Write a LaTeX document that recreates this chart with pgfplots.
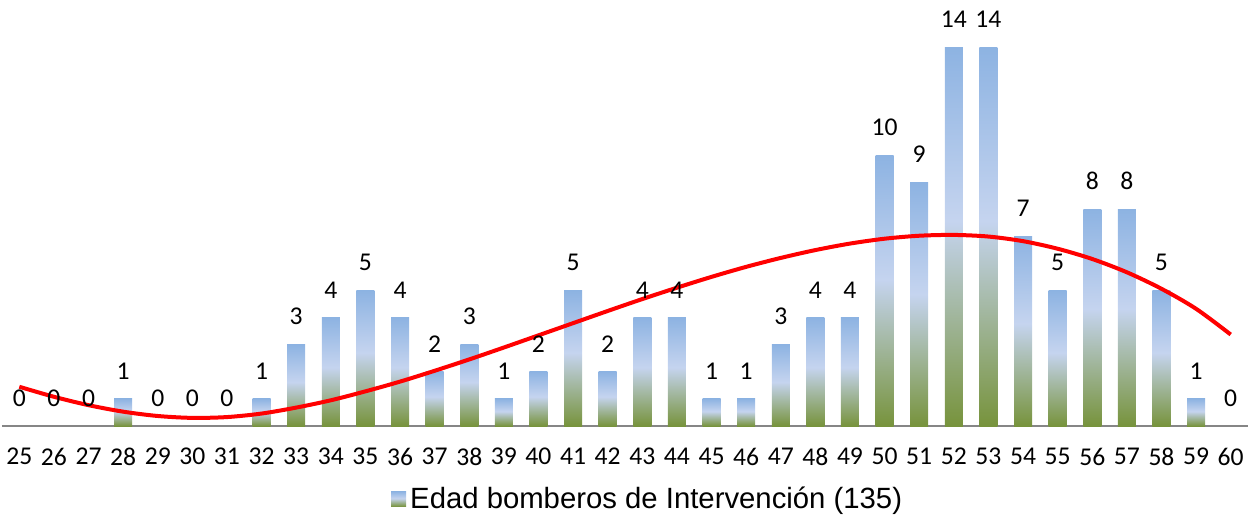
\documentclass[border=0pt]{standalone}
\usepackage{pgfplots}
\pgfplotsset{compat=1.18}
\usepackage{fontspec}
\setmainfont{Carlito}
\newfontfamily\arialfont{Liberation Sans}
\definecolor{barblue}{HTML}{8DB3E2}
\definecolor{barlight}{HTML}{C5D4EF}
\definecolor{bargreen}{HTML}{77933C}
\definecolor{axisgray}{HTML}{868686}
\pgfdeclareverticalshading{bargrad}{100bp}{color(0bp)=(bargreen); color(25bp)=(bargreen); color(52bp)=(barlight); color(75bp)=(barblue); color(100bp)=(barblue)}
\pgfplotsset{
  barstyle/.style={ybar, bar shift=0pt, bar width=9pt, draw=none, shading=bargrad,
    nodes near coords,
    nodes near coords style={font=\fontsize{12.8}{14}\selectfont, anchor=south, yshift=6.3pt, text=black}},
}
\newcommand{\onebar}[2]{\addplot[barstyle, forget plot] coordinates {(#1,#2)};}
\begin{document}
\begin{tikzpicture}
\begin{axis}[
  at={(1pt,44.5pt)}, anchor=south west,
  scale only axis,
  width=623pt, height=213pt,
  xmin=24.5, xmax=60.5,
  ymin=0, ymax=15.74,
  clip=false,
  axis x line*=bottom,
  axis y line=none,
  axis line style={draw=axisgray, line width=0.75pt},
  xtick={25,...,60},
  major tick length=0pt,
  /pgf/number format/assume math mode=true,
  xticklabel style={font=\fontsize{12.8}{14}\selectfont, yshift=-7.5pt},
  legend style={at={(0.519,0)}, anchor=center, yshift=-36.5pt, draw=none, fill=none,
    font=\arialfont\fontsize{14.65}{16}\selectfont},
  legend image code/.code={\path[shading=bargrad] (0pt,-3.75pt) rectangle (7.5pt,3.75pt);},
]
\addplot[barstyle] coordinates {(25,0)};
\addlegendentry{Edad bomberos de Intervención (135)}
\onebar{26}{0}
\onebar{27}{0}
\onebar{28}{1}
\onebar{29}{0}
\onebar{30}{0}
\onebar{31}{0}
\onebar{32}{1}
\onebar{33}{3}
\onebar{34}{4}
\onebar{35}{5}
\onebar{36}{4}
\onebar{37}{2}
\onebar{38}{3}
\onebar{39}{1}
\onebar{40}{2}
\onebar{41}{5}
\onebar{42}{2}
\onebar{43}{4}
\onebar{44}{4}
\onebar{45}{1}
\onebar{46}{1}
\onebar{47}{3}
\onebar{48}{4}
\onebar{49}{4}
\onebar{50}{10}
\onebar{51}{9}
\onebar{52}{14}
\onebar{53}{14}
\onebar{54}{7}
\onebar{55}{5}
\onebar{56}{8}
\onebar{57}{8}
\onebar{58}{5}
\onebar{59}{1}
\onebar{60}{0}
\addplot[red, line width=2pt, smooth, no marks, forget plot] coordinates {
(25,1.45) (26,1.08) (27,0.77) (28,0.53) (29,0.37) (30,0.30) (31,0.33) (32,0.46)
(33,0.68) (34,0.95) (35,1.28) (36,1.64) (37,2.04) (38,2.46) (39,2.90) (40,3.35)
(41,3.80) (42,4.25) (43,4.69) (44,5.11) (45,5.51) (46,5.88) (47,6.21) (48,6.50)
(49,6.74) (50,6.92) (51,7.03) (52,7.06) (53,7.00) (54,6.83) (55,6.55) (56,6.17)
(57,5.68) (58,5.07) (59,4.33) (60,3.38)
};
\end{axis}
\pgfresetboundingbox
\path (0pt,0pt) rectangle (626.5pt,257.5pt);
\end{tikzpicture}
\end{document}
